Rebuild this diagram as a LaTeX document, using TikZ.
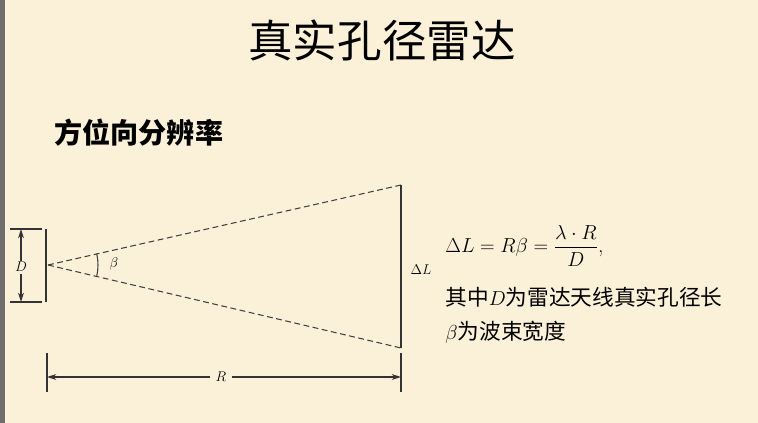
\documentclass[tikz,border=0pt]{standalone}
\usepackage{fontspec}
\usepackage{amsmath}
\newfontfamily\cjk{Noto Sans CJK SC}
\usetikzlibrary{arrows.meta}
\definecolor{parch}{HTML}{FBF1D8}
\definecolor{rim}{HTML}{6E6E6E}

\begin{document}
\begin{tikzpicture}
  [x=0.03cm,y=-0.03cm,line width=0.9pt,
   dimline/.style={-{Stealth[length=8pt,width=5pt]},black!80},
   beam/.style={dash pattern=on 5pt off 3pt,black!75},
   lbl/.style={inner sep=1pt,font=\fontsize{13}{14}\selectfont}]
  \fill[parch] (0,0) rectangle (758,423);
  \fill[rim] (0,0) rectangle (5,423);

  \node (title) at (382,40) {\fontsize{38}{42}\selectfont\cjk 真实孔径雷达};
  \node[anchor=west] (sub) at (50,133) {\fontsize{24}{28}\selectfont\cjk\bfseries 方位向分辨率};

  \coordinate (o) at (48,265);
  \coordinate (top) at (401,185);
  \coordinate (bot) at (401,348);
  \draw[beam] (o) -- (top);
  \draw[beam] (o) -- (bot);
  \draw[black!80] (top) -- (bot);
  \draw[black!75] (o) ++(-13:50) arc (-13:13:50);
  \node[lbl] (beta) at (114,264) {$\beta$};
  \node[lbl] (dL) at (421,270) {$\Delta L$};

  % aperture D
  \coordinate (d1) at (46,229);
  \coordinate (d2) at (46,302);
  \draw[black!80] (d1) -- (d2);
  \foreach \y in {229,302}
    \draw[black!80] (10,\y) -- (42,\y);
  \node[lbl] (D) at (21,267) {$D$};
  \draw[dimline] (D.north) -- (21,229);
  \draw[dimline] (D.south) -- (21,302);

  % range R
  \foreach \x in {47,401}
    \draw[black!80] (\x,353) -- (\x,392);
  \node[lbl,inner sep=4pt] (R) at (221,377) {$R$};
  \draw[dimline] (R.west) -- (47,377);
  \draw[dimline] (R.east) -- (401,377);

  \node[anchor=west,font=\fontsize{18.5}{22}\selectfont] (eq) at (441,246)
    {$\Delta L=R\beta=\dfrac{\lambda\cdot R}{D}$,};
  \node[anchor=west,font=\fontsize{18.5}{22}\selectfont] (txt1) at (441,297)
    {{\cjk 其中}$D${\cjk 为雷达天线真实孔径长}};
  \node[anchor=west,font=\fontsize{18.5}{22}\selectfont] (txt2) at (441,332)
    {$\beta${\cjk 为波束宽度}};
\end{tikzpicture}
\end{document}
